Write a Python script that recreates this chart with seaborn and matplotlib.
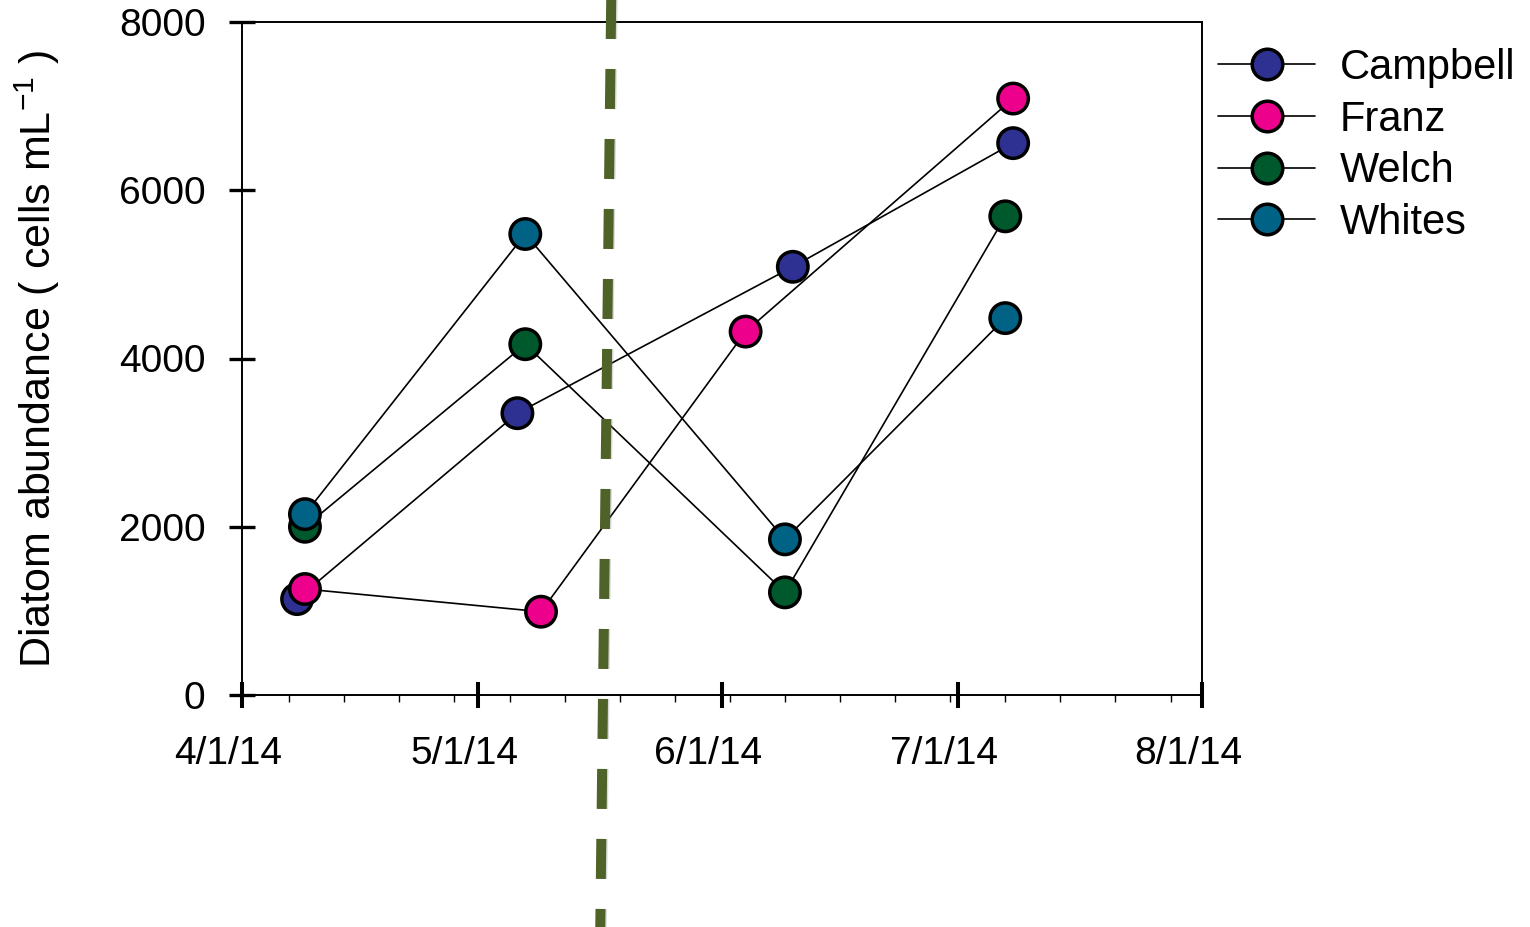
import matplotlib
matplotlib.use("Agg")
import matplotlib.pyplot as plt
import matplotlib.dates as mdates
import matplotlib.patheffects as pe
from matplotlib.lines import Line2D
from matplotlib.ticker import FuncFormatter
from matplotlib.transforms import ScaledTranslation
import pandas as pd
import seaborn as sns

# Sampling sites and their marker colours
sites = ["Campbell", "Franz", "Welch", "Whites"]
site_colors = ["#2E3192", "#EC008C", "#00592C", "#006385"]

# Diatom abundance (cells per mL) at each sampling date
campbell_dates = ["2014-04-08", "2014-05-06", "2014-06-10", "2014-07-08"]
campbell_cells = [1140, 3350, 5090, 6560]
franz_dates = ["2014-04-09", "2014-05-09", "2014-06-04", "2014-07-08"]
franz_cells = [1260, 990, 4320, 7090]
welch_dates = ["2014-04-09", "2014-05-07", "2014-06-09", "2014-07-07"]
welch_cells = [2000, 4170, 1220, 5690]
whites_dates = ["2014-04-09", "2014-05-07", "2014-06-09", "2014-07-07"]
whites_cells = [2150, 5480, 1850, 4480]

# Axis ticks
y_ticks = [0, 2000, 4000, 6000, 8000]
x_tick_dates = ["2014-04-01", "2014-05-01", "2014-06-01", "2014-07-01", "2014-08-01"]

# Dashed divider drawn across the whole figure
divider_dates = ["2014-05-17 23:00", "2014-05-16 12:45"]
divider_cells = [8570, -2760]

series = {
    "Campbell": (campbell_dates, campbell_cells),
    "Franz": (franz_dates, franz_cells),
    "Welch": (welch_dates, welch_cells),
    "Whites": (whites_dates, whites_cells),
}
df = pd.concat(
    [pd.DataFrame({"site": s, "date": pd.to_datetime(d), "cells": v})
     for s, (d, v) in series.items()],
    ignore_index=True,
)
palette = dict(zip(sites, site_colors))

sns.set_style("ticks")
plt.rcParams["font.family"] = ["Liberation Sans", "DejaVu Sans"]
plt.rcParams["text.color"] = "black"
plt.rcParams["axes.labelcolor"] = "black"
plt.rcParams["mathtext.fontset"] = "custom"
plt.rcParams["mathtext.rm"] = "Liberation Sans"
plt.rcParams["mathtext.it"] = "Liberation Sans:italic"
plt.rcParams["mathtext.bf"] = "Liberation Sans:bold"
plt.rcParams["mathtext.sf"] = "Liberation Sans"

FS = 28
EDGE = 2.5
fig = plt.figure(figsize=(15.3, 9.27), dpi=100)
ax = fig.add_axes([242 / 1530, 1 - 695 / 927, 960 / 1530, 673 / 927])

# thin black connecting lines
sns.lineplot(data=df, x="date", y="cells", units="site", estimator=None,
             color="black", lw=1.2, sort=False, ax=ax, zorder=2, legend=False)
# coloured circle markers
sns.scatterplot(data=df, x="date", y="cells", hue="site", palette=palette,
                s=480, edgecolor="black", linewidth=EDGE, ax=ax, zorder=3,
                legend=False)

# dashed divider line
ax.plot(pd.to_datetime(divider_dates), divider_cells, color="#4F6228", lw=7.2,
        linestyle=(0, (4, 3)), dash_capstyle="butt", clip_on=False, zorder=5,
        path_effects=[pe.SimpleLineShadow(offset=(1.0, -2.0), shadow_color="gray",
                                          alpha=0.3),
                      pe.Normal()])

ax.set_xlim(pd.Timestamp(x_tick_dates[0]), pd.Timestamp(x_tick_dates[-1]))
ax.set_ylim(y_ticks[0], y_ticks[-1])
ax.set_yticks(y_ticks)
ax.set_yticklabels([str(v) for v in y_ticks])
ax.set_xticks(pd.to_datetime(x_tick_dates))
ax.xaxis.set_major_formatter(FuncFormatter(
    lambda x, pos: (lambda d: f"{d.month}/{d.day}/{d:%y}")(mdates.num2date(x))))
ax.xaxis.set_minor_locator(mdates.WeekdayLocator(byweekday=mdates.MO))

ax.tick_params(axis="x", which="major", direction="inout", length=18.7, width=2.9,
               pad=20, labelsize=FS, color="black", labelcolor="black")
ax.tick_params(axis="x", which="minor", direction="out", length=5, width=1.0,
               color="black")
ax.tick_params(axis="y", which="major", direction="inout", length=18.7, width=2.4,
               pad=17, labelsize=FS, color="black", labelcolor="black")
for side in ["left", "right", "top", "bottom"]:
    ax.spines[side].set_visible(True)
    ax.spines[side].set_color("black")
    ax.spines[side].set_linewidth(1.4)

ax.set_xlabel("")
ax.set_ylabel("Diatom abundance ( cells mL$^{-1}$ )", fontsize=31, color="black")
ax.yaxis.set_label_coords(-0.1875, 0.5)

handles = [Line2D([], [], color="black", lw=1.2, marker="o", markersize=22,
                  markerfacecolor=c, markeredgecolor="black", markeredgewidth=EDGE)
           for c in site_colors]
fig.legend(handles, sites, loc="upper left",
           bbox_to_anchor=(1218 / 1530, 1 - 48 / 927), frameon=False,
           fontsize=30, handlelength=2.33, handletextpad=0.6, labelspacing=0.28,
           borderpad=0, borderaxespad=0, labelcolor="black")

fig.canvas.draw()
shift = ScaledTranslation(-0.14, 0, fig.dpi_scale_trans)
for lab in ax.get_xticklabels():
    lab.set_transform(lab.get_transform() + shift)

fig.savefig("out.png", dpi=100)
